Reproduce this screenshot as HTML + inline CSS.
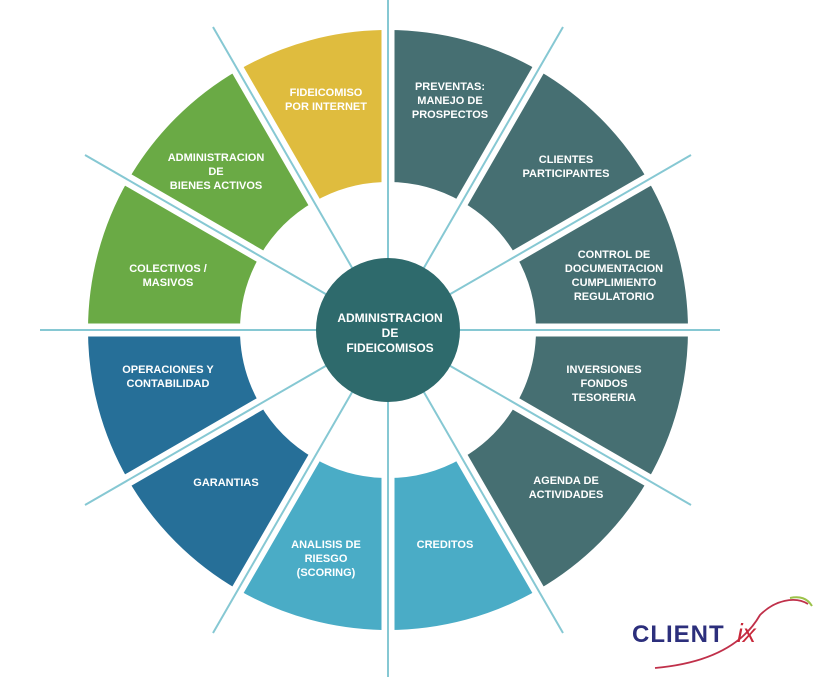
<!DOCTYPE html>
<html><head><meta charset="utf-8"><style>
html,body{margin:0;padding:0;background:#fff;}
svg{display:block;}
text{font-family:"Liberation Sans",Arial,sans-serif;font-weight:bold;fill:#fff;font-size:11px;text-anchor:middle;}
</style></head><body>
<svg width="824" height="677" viewBox="0 0 824 677">
<g>
<path d="M388,30 A300,300 0 0 1 538,70.2 L462,201.8 A148,148 0 0 0 388,182 Z" fill="#466f72"/>
<path d="M538,70.2 A300,300 0 0 1 647.8,180 L516.2,256 A148,148 0 0 0 462,201.8 Z" fill="#466f72"/>
<path d="M647.8,180 A300,300 0 0 1 688,330 L536,330 A148,148 0 0 0 516.2,256 Z" fill="#466f72"/>
<path d="M688,330 A300,300 0 0 1 647.8,480 L516.2,404 A148,148 0 0 0 536,330 Z" fill="#466f72"/>
<path d="M647.8,480 A300,300 0 0 1 538,589.8 L462,458.2 A148,148 0 0 0 516.2,404 Z" fill="#466f72"/>
<path d="M538,589.8 A300,300 0 0 1 388,630 L388,478 A148,148 0 0 0 462,458.2 Z" fill="#4aacc6"/>
<path d="M388,630 A300,300 0 0 1 238,589.8 L314,458.2 A148,148 0 0 0 388,478 Z" fill="#4aacc6"/>
<path d="M238,589.8 A300,300 0 0 1 128.2,480 L259.8,404 A148,148 0 0 0 314,458.2 Z" fill="#266f98"/>
<path d="M128.2,480 A300,300 0 0 1 88,330 L240,330 A148,148 0 0 0 259.8,404 Z" fill="#266f98"/>
<path d="M88,330 A300,300 0 0 1 128.2,180 L259.8,256 A148,148 0 0 0 240,330 Z" fill="#6aaa45"/>
<path d="M128.2,180 A300,300 0 0 1 238,70.2 L314,201.8 A148,148 0 0 0 259.8,256 Z" fill="#6aaa45"/>
<path d="M238,70.2 A300,300 0 0 1 388,30 L388,182 A148,148 0 0 0 314,201.8 Z" fill="#dfbc3e"/>
</g>
<g stroke="#fff" stroke-width="13">
<line x1="388" y1="0" x2="388" y2="677"/>
<line x1="40" y1="330" x2="720" y2="330"/>
<line x1="213" y1="27" x2="563" y2="633"/>
<line x1="563" y1="27" x2="213" y2="633"/>
<line x1="85" y1="155" x2="691" y2="505"/>
<line x1="691" y1="155" x2="85" y2="505"/>
</g>
<g stroke="#86c8d3" stroke-width="2">
<line x1="388" y1="0" x2="388" y2="677"/>
<line x1="40" y1="330" x2="720" y2="330"/>
<line x1="213" y1="27" x2="563" y2="633"/>
<line x1="563" y1="27" x2="213" y2="633"/>
<line x1="85" y1="155" x2="691" y2="505"/>
<line x1="691" y1="155" x2="85" y2="505"/>
</g>
<circle cx="388" cy="330" r="72" fill="#2e6a6c"/>
<text x="390" y="322" style="font-size:12px">ADMINISTRACION</text>
<text x="390" y="337" style="font-size:12px">DE</text>
<text x="390" y="352" style="font-size:12px">FIDEICOMISOS</text>

<text x="326" y="96">FIDEICOMISO</text><text x="326" y="110">POR INTERNET</text>
<text x="450" y="90">PREVENTAS:</text><text x="450" y="104">MANEJO DE</text><text x="450" y="118">PROSPECTOS</text>
<text x="566" y="163">CLIENTES</text><text x="566" y="177">PARTICIPANTES</text>
<text x="614" y="258">CONTROL DE</text><text x="614" y="272">DOCUMENTACION</text><text x="614" y="286">CUMPLIMIENTO</text><text x="614" y="300">REGULATORIO</text>
<text x="604" y="373">INVERSIONES</text><text x="604" y="387">FONDOS</text><text x="604" y="401">TESORERIA</text>
<text x="566" y="484">AGENDA DE</text><text x="566" y="498">ACTIVIDADES</text>
<text x="445" y="548">CREDITOS</text>
<text x="326" y="548">ANALISIS DE</text><text x="326" y="562">RIESGO</text><text x="326" y="576">(SCORING)</text>
<text x="226" y="486">GARANTIAS</text>
<text x="168" y="373">OPERACIONES Y</text><text x="168" y="387">CONTABILIDAD</text>
<text x="168" y="272">COLECTIVOS /</text><text x="168" y="286">MASIVOS</text>
<text x="216" y="161">ADMINISTRACION</text><text x="216" y="175">DE</text><text x="216" y="189">BIENES ACTIVOS</text>

<path d="M655,668 C700,664 740,650 760,615 C775,600 795,596 808,604" stroke="#c0304a" stroke-width="1.8" fill="none"/>
<path d="M790,598 C800,596 807,598 812,606" stroke="#9cc24a" stroke-width="2" fill="none"/>
<text x="632" y="642" style="font-size:24px;fill:#2c2f7c;text-anchor:start;letter-spacing:1px">CLIENT</text>
<text x="737" y="642" style="font-size:26px;fill:#c8283a;text-anchor:start;font-style:italic;font-weight:normal">ix</text>
</svg>
</body></html>
